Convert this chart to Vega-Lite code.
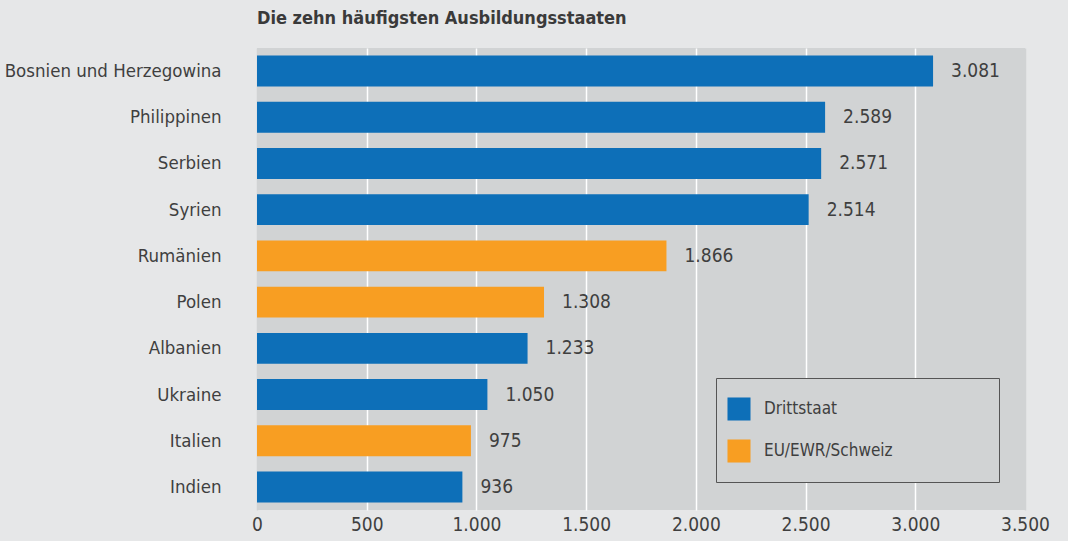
{
  "$schema": "https://vega.github.io/schema/vega-lite/v6.json",
  "width": 768,
  "height": 462,
  "autosize": {"type": "none"},
  "padding": {"left": 257, "top": 48, "right": 43, "bottom": 31},
  "background": "#e6e7e8",
  "title": {"text": "Die zehn häufigsten Ausbildungsstaaten", "anchor": "start", "frame": "group", "offset": 20, "fontSize": 18, "fontWeight": "bold", "color": "#3a3a3a", "font": "DejaVu Sans Condensed, Roboto Condensed, Liberation Sans, sans-serif"},
  "config": {
    "locale": {"number": {"decimal": ",", "thousands": ".", "grouping": [3], "currency": ["", " €"]}},
    "view": {"fill": "#d1d3d4", "stroke": null},
    "font": "DejaVu Sans Condensed, Roboto Condensed, Liberation Sans, sans-serif"
  },
  "data": {"values": [
    {"land": "Bosnien und Herzegowina", "anzahl": 3081, "gruppe": "Drittstaat"},
    {"land": "Philippinen", "anzahl": 2589, "gruppe": "Drittstaat"},
    {"land": "Serbien", "anzahl": 2571, "gruppe": "Drittstaat"},
    {"land": "Syrien", "anzahl": 2514, "gruppe": "Drittstaat"},
    {"land": "Rumänien", "anzahl": 1866, "gruppe": "EU/EWR/Schweiz"},
    {"land": "Polen", "anzahl": 1308, "gruppe": "EU/EWR/Schweiz"},
    {"land": "Albanien", "anzahl": 1233, "gruppe": "Drittstaat"},
    {"land": "Ukraine", "anzahl": 1050, "gruppe": "Drittstaat"},
    {"land": "Italien", "anzahl": 975, "gruppe": "EU/EWR/Schweiz"},
    {"land": "Indien", "anzahl": 936, "gruppe": "Drittstaat"}
  ]},
  "encoding": {
    "y": {"field": "land", "type": "nominal", "sort": "-x",
      "scale": {"paddingInner": 0.33, "paddingOuter": 0.16},
      "axis": {"title": null, "domain": false, "ticks": false, "labelPadding": 36, "labelFontSize": 18.5, "labelLimit": 400, "labelColor": "#3f3f3f"}},
    "x": {"field": "anzahl", "type": "quantitative",
      "scale": {"domain": [0, 3500], "nice": false},
      "axis": {"title": null, "values": [0, 500, 1000, 1500, 2000, 2500, 3000, 3500], "format": ",d", "domain": false, "ticks": false, "grid": true,
        "gridColor": {"condition": {"test": "datum.value === 0 || datum.value === 3500", "value": "#d1d3d4"}, "value": "#ffffff"},
        "gridWidth": 1.5, "labelPadding": 5, "labelFontSize": 19, "labelColor": "#3f3f3f", "labelFlush": false}}
  },
  "layer": [
    {
      "mark": {"type": "bar"},
      "encoding": {
        "color": {"field": "gruppe", "type": "nominal",
          "scale": {"domain": ["Drittstaat", "EU/EWR/Schweiz"], "range": ["#0d6fb8", "#f89e22"]},
          "legend": {"title": " ", "titleOrient": "right", "titleFontSize": 1, "titlePadding": 87, "orient": "none", "legendX": 459, "legendY": 330, "padding": 19, "strokeColor": "#555555", "fillColor": "#d1d3d4", "symbolType": "square", "symbolSize": 530, "symbolStrokeWidth": 0, "symbolOpacity": 1, "symbolOffset": -8, "labelFontSize": 17, "labelColor": "#3f3f3f", "labelOffset": 13, "rowPadding": 18}}
      }
    },
    {
      "mark": {"type": "text", "align": "left", "baseline": "middle", "dx": 18, "fontSize": 19, "color": "#3f3f3f"},
      "encoding": {"text": {"field": "anzahl", "type": "quantitative", "format": ",d"}}
    }
  ]
}
